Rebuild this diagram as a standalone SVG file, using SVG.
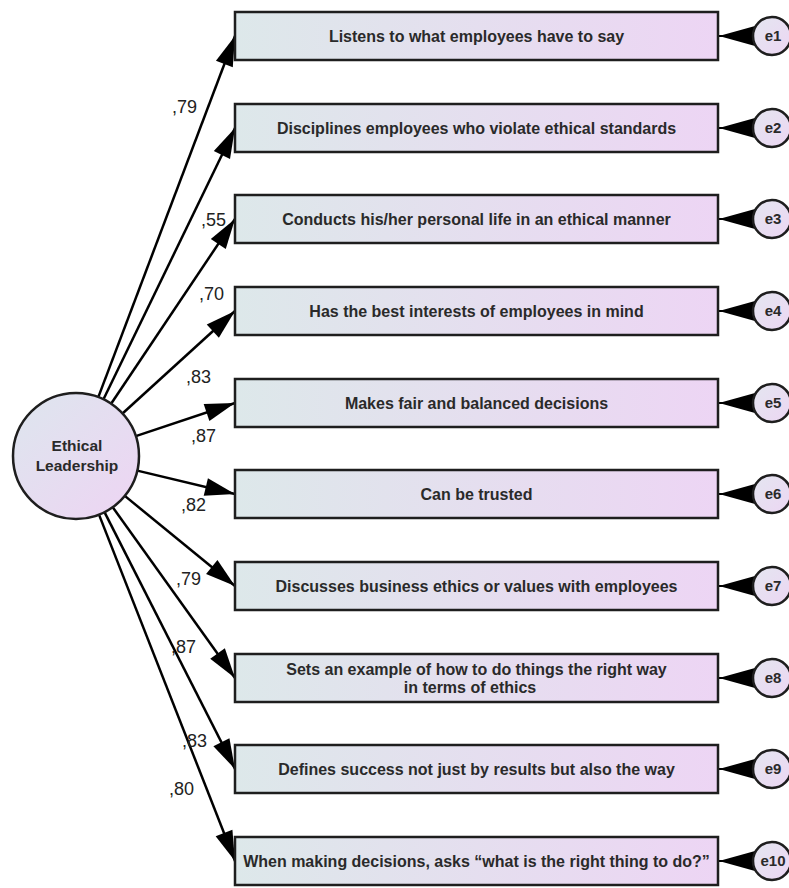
<svg xmlns="http://www.w3.org/2000/svg" width="789" height="888" viewBox="0 0 789 888">
  <style>
    .box { stroke: #1e1e1e; stroke-width: 2.5; fill: url(#boxFill); }
    .latent { stroke: #1e1e1e; stroke-width: 2.5; fill: url(#latentFill); }
    .err { stroke: #1e1e1e; stroke-width: 2.5; fill: url(#errFill); }
    .item { font-family: "Liberation Sans", Arial, sans-serif; font-weight: bold; font-size: 16px; fill: #2a2a2a; text-anchor: middle; }
    .lname { font-family: "Liberation Sans", Arial, sans-serif; font-weight: bold; font-size: 15.5px; fill: #2a2a2a; text-anchor: middle; }
    .ename { font-family: "Liberation Sans", Arial, sans-serif; font-weight: bold; font-size: 15px; fill: #2a2a2a; text-anchor: middle; }
    .coef { font-family: "Liberation Sans", Arial, sans-serif; font-size: 18px; fill: #222; }
    .path { stroke: #000; stroke-width: 2.5; fill: none; marker-end: url(#head); }
    .epath { stroke: #000; stroke-width: 2; fill: none; marker-end: url(#ehead); }
  </style>
  <defs>
    <linearGradient id="boxFill" x1="0" y1="0" x2="1" y2="0">
      <stop offset="0" stop-color="#dde8ea"/>
      <stop offset="1" stop-color="#edd5f4"/>
    </linearGradient>
    <linearGradient id="latentFill" x1="0" y1="0" x2="1" y2="1">
      <stop offset="0" stop-color="#dde6ee"/>
      <stop offset="1" stop-color="#eed4f3"/>
    </linearGradient>
    <linearGradient id="errFill" x1="0" y1="0" x2="1" y2="1">
      <stop offset="0" stop-color="#e4e6f0"/>
      <stop offset="1" stop-color="#ecd6f3"/>
    </linearGradient>
    <marker id="head" markerUnits="userSpaceOnUse" markerWidth="30" markerHeight="18" refX="30" refY="9" orient="auto" overflow="visible">
      <path d="M0,0 L30,9 L0,18 Z" fill="#000"/>
    </marker>
    <marker id="ehead" markerUnits="userSpaceOnUse" markerWidth="36" markerHeight="20" refX="36" refY="10" orient="auto" overflow="visible">
      <path d="M0,0 L36,10 L0,20 Z" fill="#000"/>
    </marker>
  </defs>

  <!-- loadings and error paths -->
  <g id="connectors">
    <line class="path" x1="98.3" y1="397.1" x2="235" y2="36"/>
    <line class="path" x1="103.5" y1="399.3" x2="235" y2="128"/>
    <line class="path" x1="111.1" y1="403.7" x2="235" y2="219"/>
    <line class="path" x1="122.5" y1="413.5" x2="235" y2="311"/>
    <line class="path" x1="135.8" y1="436.1" x2="235" y2="403"/>
    <line class="path" x1="137.3" y1="470.6" x2="235" y2="494"/>
    <line class="path" x1="124.8" y1="495.9" x2="235" y2="586"/>
    <line class="path" x1="112.7" y1="507.2" x2="235" y2="678"/>
    <line class="path" x1="104.5" y1="512.1" x2="235" y2="769"/>
    <line class="path" x1="99.0" y1="514.6" x2="235" y2="861"/>

    <line class="epath" x1="755" y1="36" x2="719" y2="36"/>
    <line class="epath" x1="755" y1="128" x2="719" y2="128"/>
    <line class="epath" x1="755" y1="219" x2="719" y2="219"/>
    <line class="epath" x1="755" y1="311" x2="719" y2="311"/>
    <line class="epath" x1="755" y1="403" x2="719" y2="403"/>
    <line class="epath" x1="755" y1="494" x2="719" y2="494"/>
    <line class="epath" x1="755" y1="586" x2="719" y2="586"/>
    <line class="epath" x1="755" y1="678" x2="719" y2="678"/>
    <line class="epath" x1="755" y1="769" x2="719" y2="769"/>
    <line class="epath" x1="755" y1="861" x2="719" y2="861"/>

    <text class="coef" x="172" y="113">,79</text>
    <text class="coef" x="201" y="226">,55</text>
    <text class="coef" x="199" y="300">,70</text>
    <text class="coef" x="186" y="383">,83</text>
    <text class="coef" x="191" y="442">,87</text>
    <text class="coef" x="181" y="511">,82</text>
    <text class="coef" x="176" y="585">,79</text>
    <text class="coef" x="171" y="653">,87</text>
    <text class="coef" x="182" y="747">,83</text>
    <text class="coef" x="169" y="795">,80</text>
  </g>

  <g id="ethical-leadership">
    <circle class="latent" cx="76" cy="456" r="63"/>
    <text class="lname" x="77" y="451">Ethical</text>
    <text class="lname" x="77" y="471">Leadership</text>
  </g>

  <g id="item1">
    <rect class="box" x="235" y="12" width="483" height="48"/>
    <text class="item" x="476.5" y="42">Listens to what employees have to say</text>
  </g>
  <g id="item2">
    <rect class="box" x="235" y="104" width="483" height="48"/>
    <text class="item" x="476.5" y="134">Disciplines employees who violate ethical standards</text>
  </g>
  <g id="item3">
    <rect class="box" x="235" y="195" width="483" height="48"/>
    <text class="item" x="476.5" y="225">Conducts his/her personal life in an ethical manner</text>
  </g>
  <g id="item4">
    <rect class="box" x="235" y="287" width="483" height="48"/>
    <text class="item" x="476.5" y="317">Has the best interests of employees in mind</text>
  </g>
  <g id="item5">
    <rect class="box" x="235" y="379" width="483" height="48"/>
    <text class="item" x="476.5" y="409">Makes fair and balanced decisions</text>
  </g>
  <g id="item6">
    <rect class="box" x="235" y="470" width="483" height="48"/>
    <text class="item" x="476.5" y="500">Can be trusted</text>
  </g>
  <g id="item7">
    <rect class="box" x="235" y="562" width="483" height="48"/>
    <text class="item" x="476.5" y="592">Discusses business ethics or values with employees</text>
  </g>
  <g id="item8">
    <rect class="box" x="235" y="654" width="483" height="48"/>
    <text class="item" x="476.5" y="675">Sets an example of how to do things the right way</text>
    <text class="item" x="470" y="693">in terms of ethics</text>
  </g>
  <g id="item9">
    <rect class="box" x="235" y="745" width="483" height="48"/>
    <text class="item" x="476.5" y="775">Defines success not just by results but also the way</text>
  </g>
  <g id="item10">
    <rect class="box" x="235" y="837" width="483" height="48"/>
    <text class="item" x="476.5" y="867">When making decisions, asks “what is the right thing to do?”</text>
  </g>

  <g id="e1"><circle class="err" cx="772" cy="36" r="19"/><text class="ename" x="773" y="41">e1</text></g>
  <g id="e2"><circle class="err" cx="772" cy="128" r="19"/><text class="ename" x="773" y="133">e2</text></g>
  <g id="e3"><circle class="err" cx="772" cy="219" r="19"/><text class="ename" x="773" y="224">e3</text></g>
  <g id="e4"><circle class="err" cx="772" cy="311" r="19"/><text class="ename" x="773" y="316">e4</text></g>
  <g id="e5"><circle class="err" cx="772" cy="403" r="19"/><text class="ename" x="773" y="408">e5</text></g>
  <g id="e6"><circle class="err" cx="772" cy="494" r="19"/><text class="ename" x="773" y="499">e6</text></g>
  <g id="e7"><circle class="err" cx="772" cy="586" r="19"/><text class="ename" x="773" y="591">e7</text></g>
  <g id="e8"><circle class="err" cx="772" cy="678" r="19"/><text class="ename" x="773" y="683">e8</text></g>
  <g id="e9"><circle class="err" cx="772" cy="769" r="19"/><text class="ename" x="773" y="774">e9</text></g>
  <g id="e10"><circle class="err" cx="772" cy="861" r="19"/><text class="ename" x="773" y="866">e10</text></g>
</svg>
